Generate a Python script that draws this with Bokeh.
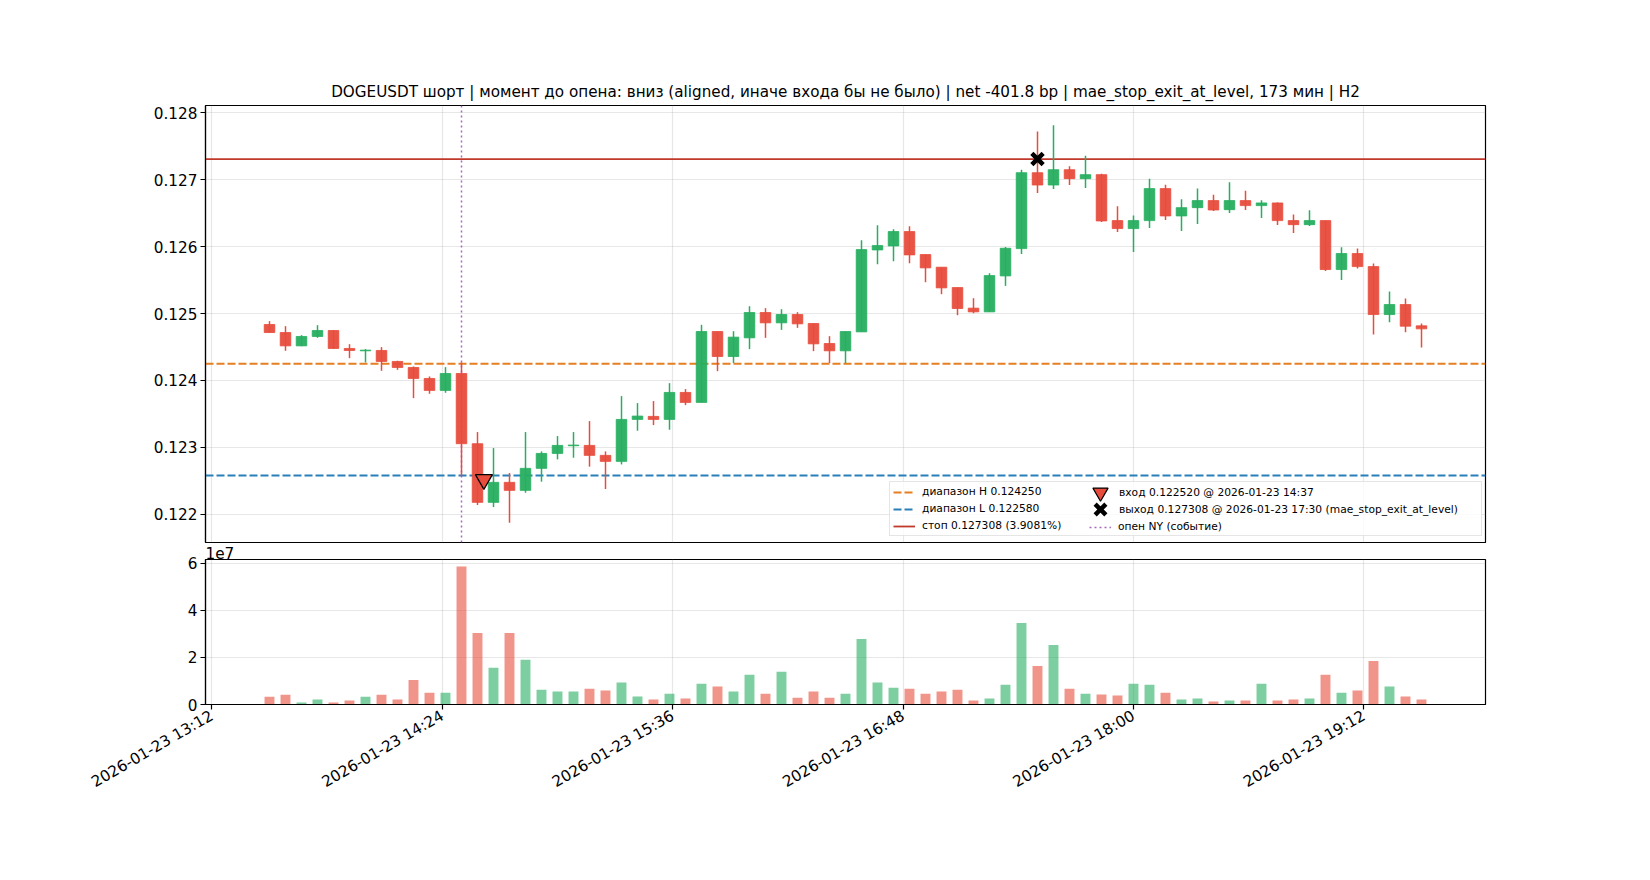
import math
import pandas as pd
from bokeh.plotting import figure
from bokeh.layouts import column
from bokeh.models import (ColumnDataSource, FixedTicker, PrintfTickFormatter,
                          DatetimeTickFormatter, CustomJSTickFormatter, Legend,
                          LegendItem, Range1d)
from bokeh.embed import file_html
from bokeh.resources import INLINE

# ---------------- data ----------------
first_candle = "2026-01-23 13:30"
opens = [0.124836, 0.124716, 0.124517, 0.124657, 0.124746, 0.124478, 0.124443, 0.124448, 0.124284, 0.124194,
         0.124030, 0.123851, 0.124104, 0.123055, 0.122179, 0.122478, 0.122358, 0.122687, 0.122910, 0.123025,
         0.123030, 0.122881, 0.122791, 0.123418, 0.123463, 0.123418, 0.123821, 0.123672, 0.124731, 0.124358,
         0.124637, 0.125015, 0.124861, 0.124985, 0.124851, 0.124552, 0.124443, 0.124726, 0.125950, 0.126010,
         0.126224, 0.125881, 0.125692, 0.125388, 0.125080, 0.125025, 0.125562, 0.125970, 0.127104, 0.126920,
         0.127149, 0.127015, 0.127075, 0.126388, 0.126269, 0.126388, 0.126866, 0.126458, 0.126582, 0.126687,
         0.126552, 0.126687, 0.126612, 0.126652, 0.126388, 0.126328, 0.126388, 0.125657, 0.125896, 0.125701,
         0.124985, 0.125134, 0.124816]
highs = [0.124886, 0.124811, 0.124677, 0.124826, 0.124751, 0.124542, 0.124468, 0.124498, 0.124294, 0.124209,
         0.124060, 0.124199, 0.124269, 0.123229, 0.122990, 0.122617, 0.123229, 0.122940, 0.123169, 0.123229,
         0.123393, 0.122940, 0.123766, 0.123662, 0.123692, 0.123960, 0.123871, 0.124831, 0.124731, 0.124736,
         0.125109, 0.125080, 0.125065, 0.125020, 0.124851, 0.124662, 0.124731, 0.126095, 0.126318, 0.126259,
         0.126303, 0.125881, 0.125692, 0.125388, 0.125229, 0.125602, 0.125995, 0.127149, 0.127721, 0.127811,
         0.127199, 0.127358, 0.127090, 0.126602, 0.126463, 0.127015, 0.126925, 0.126706, 0.126866, 0.126776,
         0.126960, 0.126836, 0.126692, 0.126657, 0.126478, 0.126542, 0.126388, 0.125990, 0.125970, 0.125746,
         0.125328, 0.125224, 0.124851]
lows = [0.124716, 0.124443, 0.124512, 0.124637, 0.124473, 0.124333, 0.124269, 0.124144, 0.124159, 0.123736,
        0.123801, 0.123816, 0.122577, 0.122139, 0.122109, 0.121876, 0.122323, 0.122488, 0.122821, 0.122846,
        0.122712, 0.122378, 0.122746, 0.123249, 0.123333, 0.123264, 0.123632, 0.123672, 0.124139, 0.124259,
        0.124468, 0.124637, 0.124756, 0.124786, 0.124438, 0.124259, 0.124259, 0.124726, 0.125736, 0.125781,
        0.125751, 0.125468, 0.125289, 0.124975, 0.125005, 0.125025, 0.125413, 0.125891, 0.126801, 0.126861,
        0.126920, 0.126876, 0.126368, 0.126219, 0.125920, 0.126279, 0.126398, 0.126234, 0.126338, 0.126532,
        0.126502, 0.126547, 0.126428, 0.126323, 0.126204, 0.126308, 0.125637, 0.125502, 0.125672, 0.124687,
        0.124871, 0.124721, 0.124493]
closes = [0.124716, 0.124517, 0.124657, 0.124746, 0.124478, 0.124448, 0.124453, 0.124284, 0.124194, 0.124030,
          0.123851, 0.124104, 0.123055, 0.122179, 0.122478, 0.122358, 0.122687, 0.122910, 0.123030, 0.123035,
          0.122881, 0.122791, 0.123418, 0.123468, 0.123418, 0.123821, 0.123672, 0.124731, 0.124358, 0.124647,
          0.125015, 0.124861, 0.124985, 0.124846, 0.124547, 0.124443, 0.124731, 0.125955, 0.126015, 0.126224,
          0.125876, 0.125682, 0.125383, 0.125075, 0.125025, 0.125567, 0.125975, 0.127104, 0.126920, 0.127149,
          0.127015, 0.127075, 0.126383, 0.126269, 0.126388, 0.126866, 0.126458, 0.126582, 0.126687, 0.126547,
          0.126687, 0.126612, 0.126652, 0.126388, 0.126328, 0.126388, 0.125657, 0.125896, 0.125701, 0.124985,
          0.125134, 0.124811, 0.124771]
volumes = [3330000, 4170000, 830000, 2080000, 830000, 1670000, 3330000, 4170000, 2080000, 10420000,
           5000000, 5000000, 58700000, 30400000, 15600000, 30400000, 19000000, 6300000, 5500000, 5500000,
           6700000, 5900000, 9300000, 3400000, 2100000, 4600000, 2500000, 8800000, 7600000, 5500000,
           12600000, 4600000, 13900000, 2900000, 5500000, 2900000, 4600000, 27800000, 9300000, 7100000,
           6700000, 4600000, 5500000, 6300000, 1700000, 2500000, 8400000, 34600000, 16400000, 25300000,
           6700000, 4600000, 4200000, 3800000, 8800000, 8400000, 5000000, 2100000, 2500000, 1300000,
           1700000, 1700000, 8800000, 1700000, 2100000, 2500000, 12600000, 5000000, 5900000, 18500000,
           7600000, 3400000, 2100000]

x_tick_labels = ["2026-01-23 13:12", "2026-01-23 14:24", "2026-01-23 15:36",
                 "2026-01-23 16:48", "2026-01-23 18:00", "2026-01-23 19:12"]
price_ticks = [0.122, 0.123, 0.124, 0.125, 0.126, 0.127, 0.128]
vol_ticks = [0, 20000000, 40000000, 60000000]
vol_exponent = 7

range_high = 0.124250
range_low = 0.122580
stop_level = 0.127308
stop_pct = 3.9081
entry_time = "2026-01-23 14:37"
entry_price = 0.122520
exit_time = "2026-01-23 17:30"
exit_price = 0.127308
exit_reason = "mae_stop_exit_at_level"
ny_open_time = "2026-01-23 14:30"
title_text = ("DOGEUSDT шорт | момент до опена: вниз (aligned, иначе входа бы не было) | "
              "net -401.8 bp | mae_stop_exit_at_level, 173 мин | H2")

# ---------------- styling ----------------
FONT = "DejaVu Sans"
FS = "15.28px"
GREEN = "#27ae60"
RED = "#e74c3c"
ORANGE = "#e67e22"
BLUE = "#2980b9"
STOP_RED = "#c0392b"
PURPLE = "#9b59b6"


def ms(s):
    return pd.Timestamp(s).value / 1e6


times = pd.date_range(first_candle, periods=len(opens), freq="5min")
colors = [GREEN if c >= o else RED for o, c in zip(opens, closes)]
src = ColumnDataSource(dict(
    t=times, open=opens, high=highs, low=lows, close=closes,
    top=[max(o, c) for o, c in zip(opens, closes)],
    bottom=[min(o, c) for o, c in zip(opens, closes)],
    color=colors, volume=volumes))

pad = pd.Timedelta(minutes=20)
x_lo = ms(times[0] - pad)
x_hi = ms(times[-1] + pad)
x_range = Range1d(x_lo, x_hi)
pspan = max(highs) - min(lows)
y_lo = min(lows) - 0.05 * pspan
y_hi = max(highs) + 0.05 * pspan
y_range = Range1d(y_lo, y_hi)
tick_ms = [ms(s) for s in x_tick_labels]

FRAME_W = 1280
LEFT = 205
RIGHT = 149


def style_axis(ax, standoff=5):
    ax.axis_line_color = "black"
    ax.axis_line_width = 1.2
    ax.major_tick_line_color = "black"
    ax.major_tick_line_width = 1.2
    ax.major_tick_in = 0
    ax.major_tick_out = 5
    ax.minor_tick_line_color = None
    ax.major_label_text_font = FONT
    ax.major_label_text_font_size = FS
    ax.major_label_text_color = "black"
    ax.major_label_standoff = standoff


def style_fig(f):
    f.outline_line_color = "black"
    f.outline_line_width = 1.2
    f.outline_line_alpha = 1.0
    f.background_fill_color = "white"
    f.border_fill_color = "white"
    for g in (f.xgrid, f.ygrid):
        g.grid_line_color = "#b0b0b0"
        g.grid_line_alpha = 0.3
        g.grid_line_width = 1.2


def style_legend(lg, glyph_w, glyph_h, standoff, boxed):
    lg.label_text_font = FONT
    lg.label_text_font_size = "10.7px"
    lg.label_text_color = "black"
    lg.glyph_width = glyph_w
    lg.glyph_height = glyph_h
    lg.label_standoff = standoff
    lg.label_height = 12
    lg.margin = 0
    if boxed:
        lg.padding = 3
        lg.spacing = 4
        lg.border_line_color = "#cccccc"
        lg.border_line_width = 1
        lg.background_fill_color = "white"
        lg.background_fill_alpha = 0.8
    else:
        lg.padding = 0
        lg.spacing = 0
        lg.border_line_color = None
        lg.background_fill_alpha = 0.0


# ---------------- main (price) figure ----------------
p = figure(x_axis_type="datetime", x_range=x_range, y_range=y_range,
           frame_width=FRAME_W, frame_height=437,
           min_border_left=LEFT, min_border_right=RIGHT, min_border_top=105, min_border_bottom=1,
           output_backend="svg", toolbar_location=None, title=title_text)
style_fig(p)
p.title.text_font = FONT
p.title.text_font_size = "15.2px"
p.title.text_font_style = "normal"
p.title.text_color = "black"
p.title.align = "center"

style_axis(p.yaxis[0], standoff=3)
p.xaxis.visible = False
p.yaxis.ticker = FixedTicker(ticks=price_ticks)
p.yaxis.formatter = PrintfTickFormatter(format="%.3f")
p.xgrid.ticker = FixedTicker(ticks=tick_ms)
p.ygrid.ticker = FixedTicker(ticks=price_ticks)

# level lines and the NY-open marker line (drawn beneath the candles)
r_h = p.line(x=[x_lo, x_hi], y=[range_high, range_high], line_color=ORANGE,
             line_dash="8 3", line_width=1.8)
r_l = p.line(x=[x_lo, x_hi], y=[range_low, range_low], line_color=BLUE,
             line_dash="8 3", line_width=1.8)
r_s = p.line(x=[x_lo, x_hi], y=[stop_level, stop_level], line_color=STOP_RED, line_width=1.8)
r_ny = p.line(x=[ms(ny_open_time)] * 2, y=[y_lo, y_hi], line_color=PURPLE,
              line_dash="2 3", line_width=1.5, line_alpha=0.9)

candle_w = 3.3 * 60 * 1000
p.segment(x0="t", y0="low", x1="t", y1="high", source=src, line_color="color", line_width=1.5)
p.vbar(x="t", width=candle_w, top="top", bottom="bottom", source=src,
       fill_color="color", line_color="color", line_width=0.8, fill_alpha=0.95)

r_entry = p.scatter(x=[ms(entry_time)], y=[entry_price], marker="inverted_triangle", size=17,
                    fill_color=RED, line_color="black", line_width=1.2)
r_exit = p.scatter(x=[ms(exit_time)], y=[exit_price], marker="x", size=16,
                   line_color="black", line_width=4.5)

# legend: one boxed legend (first column) + unboxed legends for the second column
leg_a = Legend(items=[
    LegendItem(label=f"диапазон H {range_high:.6f}", renderers=[r_h]),
    LegendItem(label=f"диапазон L {range_low:.6f}", renderers=[r_l]),
    LegendItem(label=f"стоп {stop_level:.6f} ({stop_pct:.4f}%)", renderers=[r_s]),
], location=(684, 6))
style_legend(leg_a, 22, 12, 7, True)
leg_a.label_width = 556

leg_b1 = Legend(items=[LegendItem(label=f"вход {entry_price:.6f} @ {entry_time}",
                                  renderers=[r_entry])], location=(876, 30))
style_legend(leg_b1, 38, 40, 0, False)
leg_b2 = Legend(items=[LegendItem(label=f"выход {exit_price:.6f} @ {exit_time} ({exit_reason})",
                                  renderers=[r_exit])], location=(876, 13))
style_legend(leg_b2, 38, 40, 0, False)
leg_c = Legend(items=[LegendItem(label="опен NY (событие)", renderers=[r_ny])],
               location=(884, 9))
style_legend(leg_c, 22, 12, 7, False)
for lg in (leg_a, leg_b1, leg_b2, leg_c):
    p.add_layout(lg)

# ---------------- volume figure ----------------
v = figure(x_axis_type="datetime", x_range=x_range, y_range=Range1d(0, max(volumes) * 1.05),
           frame_width=FRAME_W, frame_height=145,
           min_border_left=LEFT, min_border_right=RIGHT, min_border_top=16, min_border_bottom=10,
           output_backend="svg", toolbar_location=None, title=f"1e{vol_exponent}")
style_fig(v)
v.title.text_font = FONT
v.title.text_font_size = FS
v.title.text_font_style = "normal"
v.title.text_color = "black"
v.title.align = "left"
v.title.standoff = 1
v.title.text_line_height = 0.8

style_axis(v.xaxis[0])
style_axis(v.yaxis[0], standoff=3)
v.xaxis.ticker = FixedTicker(ticks=tick_ms)
fmt = "%Y-%m-%d %H:%M"
v.xaxis.formatter = DatetimeTickFormatter(microseconds=fmt, milliseconds=fmt, seconds=fmt,
                                          minsec=fmt, minutes=fmt, hourmin=fmt, hours=fmt,
                                          days=fmt, months=fmt, years=fmt)
v.xaxis.major_label_orientation = math.pi / 6
v.yaxis.ticker = FixedTicker(ticks=vol_ticks)
v.yaxis.formatter = CustomJSTickFormatter(args=dict(scale=10 ** vol_exponent),
                                          code="return String(Math.round(tick / scale))")
v.xgrid.ticker = FixedTicker(ticks=tick_ms)
v.ygrid.ticker = FixedTicker(ticks=vol_ticks)

vol_w = 3.1 * 60 * 1000
v.vbar(x="t", width=vol_w, top="volume", bottom=0, source=src,
       fill_color="color", fill_alpha=0.6, line_color=None)

layout = column(p, v)
open("out.html", "w").write(file_html(layout, INLINE))
